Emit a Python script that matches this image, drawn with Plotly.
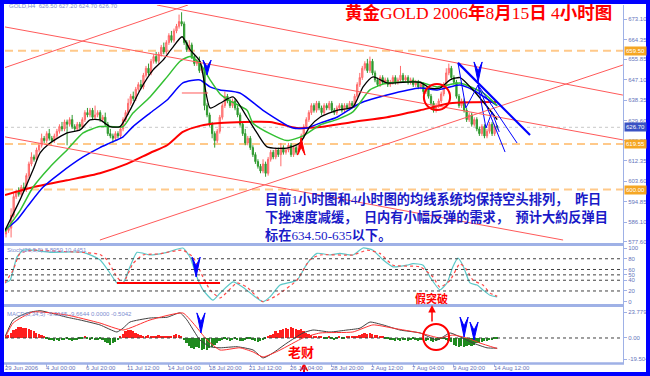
import plotly.graph_objects as go

# ---------------- data ----------------
first_open = 581.0
closes = [582.5, 583.5, 589, 597, 599, 598, 601, 600, 606, 611,
          614, 613, 617, 619, 622, 621, 624, 622, 621, 623,
          625, 627, 626, 629, 628, 630, 627, 626, 628, 627,
          630, 633, 632, 634, 631, 632, 633, 630, 631, 628,
          624, 623, 622, 624, 623, 626, 630, 633, 637, 640,
          639, 643, 645, 644, 649, 652, 650, 655, 657, 655,
          658, 661, 659, 663, 666, 664, 668, 670, 672, 671,
          663, 660, 662, 657, 654, 655, 651, 652, 636, 632,
          628, 624, 621, 625, 631, 636, 640, 638, 636, 638,
          635, 632, 628, 624, 620, 622, 618, 615, 612, 610,
          608, 611, 607, 613, 616, 614, 617, 615, 618, 616,
          617, 619, 615, 618, 616, 619, 623, 627, 630, 633,
          636, 634, 637, 635, 633, 636, 635, 637, 634, 633,
          635, 636, 634, 636, 635, 637, 636, 640, 645, 648,
          652, 654, 651, 655, 650, 647, 645, 648, 646, 647,
          645, 646, 648, 646, 647, 649, 647, 648, 646, 647,
          645, 646, 644, 645, 642, 643, 640, 637, 634, 636,
          638, 641, 645, 650, 652, 648, 646, 640, 636, 638,
          634, 630, 632, 628, 630, 626, 624, 627, 623, 625,
          628, 624, 627.2, 626.7]
upper_wick = [1, 1, 3, 2, 1, 2, 1, 2, 1, 1,
              2, 1, 1, 1, 2, 1, 1, 2, 1, 1,
              1, 1, 2, 1, 1, 1, 2, 1, 1, 1,
              1, 1, 2, 1, 1, 4, 1, 1, 1, 2,
              1, 2, 1, 1, 1, 1, 1, 1, 2, 1,
              2, 1, 1, 2, 1, 1, 2, 1, 1, 2,
              1, 1, 2, 1, 1, 2, 1, 1, 3, 4,
              1, 1, 2, 1, 1, 1, 2, 1, 2, 1,
              1, 1, 1, 1, 1, 1, 2, 1, 1, 1,
              1, 1, 1, 1, 2, 1, 1, 1, 1, 1,
              1, 2, 1, 1, 1, 1, 1, 1, 2, 1,
              1, 1, 1, 1, 1, 1, 1, 1, 1, 1,
              1, 1, 1, 1, 1, 1, 1, 1, 1, 1,
              1, 1, 1, 1, 1, 1, 1, 1, 1, 2,
              1, 1, 2, 2, 1, 1, 1, 1, 1, 1,
              1, 1, 1, 1, 1, 4, 1, 1, 1, 1,
              1, 1, 1, 1, 1, 1, 1, 1, 1, 1,
              1, 1, 1, 2, 2, 1, 1, 1, 1, 1,
              1, 1, 1, 1, 1, 1, 1, 1, 1, 1,
              1, 1, 1, 0.5]
lower_wick = [1.5, 1, 4, 1, 1, 1, 1, 1, 1, 1,
              1, 1, 1, 1, 1, 1, 1, 1, 1, 1,
              1, 1, 1, 1, 9, 1, 1, 1, 1, 1,
              1, 1, 1, 1, 1, 1, 1, 1, 1, 1,
              1, 1, 2, 1, 1, 1, 1, 1, 1, 1,
              1, 1, 1, 1, 1, 1, 1, 1, 1, 1,
              1, 1, 1, 1, 1, 1, 1, 1, 1, 1,
              1, 1, 1, 1, 1, 1, 1, 1, 2, 1,
              1, 2, 3, 1, 1, 1, 1, 1, 1, 1,
              1, 1, 1, 1, 1, 1, 1, 1, 1, 1,
              1, 1, 1.5, 1, 1, 1, 1, 1, 5, 1,
              1, 1, 1, 1, 1, 1, 1, 1, 1, 1,
              1, 1, 1, 1, 1, 1, 1, 1, 1, 1,
              1, 1, 1, 1, 1, 1, 1, 1, 1, 1,
              1, 1, 1, 1, 1, 1, 1, 1, 1, 1,
              1, 1, 1, 1, 1, 1, 1, 1, 1, 1,
              1, 1, 1, 1, 1, 1, 1, 1, 1, 1,
              1, 1, 1, 1, 1, 1, 1, 1, 1, 1,
              1, 1, 1, 1, 1, 1, 1, 1, 1, 1,
              1, 1, 1, 1]

date_tick_bars = [0, 16, 32, 48, 64, 80, 96, 112, 128, 144, 160, 176, 192]
date_tick_labels = ["29 Jun 2006", "4 Jul 00:00", "6 Jul 20:00", "11 Jul 12:00",
                    "14 Jul 04:00", "18 Jul 20:00", "21 Jul 12:00", "26 Jul 04:00",
                    "28 Jul 20:00", "2 Aug 12:00", "7 Aug 04:00", "9 Aug 20:00",
                    "14 Aug 12:00"]

price_ticks = [673.10, 664.35, 655.85, 647.10, 638.35, 629.60, 620.85, 612.35,
               603.60, 594.85, 586.10, 577.60]
stoch_ticks = [100, 80, 60, 50, 40, 20, 0]
stoch_levels = [80, 60, 50, 40, 20]
macd_ticks = [23.7794, 0.0, -19.5044]
macd_tick_text = ["23.7794", "0.00", "-19.5044"]

# moving averages (bar index, price)
ma_red_bar = [-0.4, 10.6, 24.0, 36.9, 47.5, 56.6, 63.3, 69.5, 76.2, 84.1, 103.7, 114.3,
              123.4, 136.3, 149.7, 162.7, 174.5, 193]
ma_red_val = [597.7, 601.0, 604.0, 607.0, 611.0, 615.7, 619.0, 624.7, 627.3, 628.5, 629.0,
              626.4, 626.8, 629.0, 631.0, 634.0, 637.0, 637.5]
ma_blue_bar = [-0.4, 4.3, 8.3, 14.5, 21.2, 30.3, 36.9, 40.9, 46.0, 49.9, 56.6, 63.3, 69.5,
               76.2, 80.2, 84.1, 91.9, 101.0, 112.8, 118.3, 123.4, 130.0, 139.1, 149.7,
               162.7, 169.4, 174.5, 178.4, 183.5, 193]
ma_blue_val = [582.7, 587.0, 592.6, 601.0, 607.0, 614.0, 618.0, 620.0, 622.6, 627.0, 632.8,
               638.4, 645.7, 647.0, 644.0, 642.7, 641.4, 634.0, 626.4, 626.4, 628.5, 631.0,
               637.0, 640.5, 643.5, 642.7, 644.0, 644.8, 642.7, 636.0]
ma_green_bar = [-0.4, 5.5, 10.6, 17.3, 24.0, 30.3, 36.9, 40.9, 46.0, 49.9, 56.6, 63.3, 68.4,
                72.3, 76.2, 80.2, 84.1, 88.0, 94.7, 97.0, 103.7, 110.4, 116.7, 123.4, 130.0,
                136.3, 143.0, 149.7, 162.7, 169.4, 174.5, 178.4, 187.4, 193]
ma_green_val = [582.0, 591.0, 601.0, 609.7, 617.0, 624.3, 627.0, 627.0, 627.0, 632.8, 639.7,
                648.3, 655.0, 657.0, 654.0, 647.0, 641.0, 638.0, 634.0, 628.5, 624.0, 621.0,
                623.0, 627.7, 630.0, 633.3, 642.7, 645.7, 646.0, 644.0, 645.0, 645.7, 641.4,
                636.0]
ma_black_bar = [-0.4, 5.5, 10.6, 13.4, 17.3, 24.0, 29.1, 33.0, 36.9, 40.9, 44.8, 48.7, 52.7,
                57.8, 61.7, 65.2, 69.2, 72.3, 76.2, 80.2, 84.1, 89.2, 94.7, 98.6, 102.6,
                110.4, 115.5, 119.4, 123.4, 130.0, 136.3, 140.3, 144.2, 149.7, 156.0, 162.7,
                166.6, 170.5, 174.5, 178.4, 183.5, 190.2, 193]
ma_black_val = [582.5, 595.6, 608.4, 615.7, 620.0, 624.3, 625.6, 629.9, 629.9, 627.0, 627.0,
                634.0, 642.7, 651.3, 655.5, 660.5, 665.5, 660.0, 655.0, 635.0, 637.0, 639.7,
                631.0, 624.3, 618.3, 617.8, 620.0, 627.0, 631.0, 634.0, 635.4, 644.0, 648.3,
                645.7, 646.0, 646.0, 643.5, 643.5, 647.0, 648.0, 642.7, 634.0, 630.0]

# stochastic
stoch_k_bar = [-0.4, 1.6, 4.3, 6.7, 10.6, 17.3, 30.3, 36.9, 40.9, 43.6, 46.0, 48.7, 51.5,
               56.6, 63.3, 69.5, 72.3, 75.0, 77.4, 81.3, 84.1, 89.2, 93.1, 97.1, 101.0,
               103.7, 107.7, 114.3, 118.3, 122.2, 127.3, 131.2, 136.3, 140.3, 144.2, 148.1,
               152.1, 157.6, 159.9, 163.9, 166.6, 170.5, 173.3, 175.6, 177.6, 179.6, 182.3,
               185.1, 187.4, 190.2, 193]
stoch_k_val = [35, 40, 83, 96, 96, 92, 92, 78, 53, 35, 35, 65, 92, 87, 92, 100, 83, 46, 22,
               3, 16, 37, 27, 12, 0, 9, 31, 40, 71, 90, 87, 90, 87, 100, 96, 78, 65, 68, 71,
               68, 46, 22, 35, 65, 81, 67, 35, 31, 22, 12, 8.9]
stoch_d_bar = [-0.4, 2.8, 5.5, 10.6, 20.0, 30.0, 36.9, 39.7, 43.6, 46.0, 49.9, 53.8, 60.0,
               69.5, 73.5, 77.4, 80.2, 84.1, 90.8, 94.7, 101.0, 106.5, 114.3, 119.4, 123.4,
               136.3, 141.9, 146.9, 152.1, 162.7, 167.8, 170.5, 174.5, 178.4, 181.1, 183.5,
               187.4, 190.2, 193]
stoch_d_val = [35, 59, 90, 96, 94, 92, 88, 78, 46, 35, 71, 87, 89, 96, 83, 46, 22, 7, 35, 27,
               0, 12, 40, 78, 87, 87, 96, 90, 68, 65, 46, 27, 40, 71, 59, 40, 31, 16, 10.4]

# MACD
macd_bar = [-0.4, 2.8, 8.3, 13.4, 17.3, 24.0, 29.1, 36.9, 43.6, 46.0, 48.7, 56.6, 63.3, 68.4,
            71.1, 76.2, 80.2, 84.1, 90.8, 97.1, 101.0, 104.9, 110.4, 116.7, 120.6, 127.3,
            134.0, 139.1, 143.0, 148.1, 154.8, 162.7, 169.4, 174.5, 178.4, 183.5, 189.0, 193]
macd_val = [1, 16.5, 23, 25, 23, 19, 16.5, 12, 5.5, 9, 14.6, 18.3, 19, 23, 16.5, -1.8, -8, -9,
            -8, -11, -18.3, -13.7, -4.6, 4.6, 7.3, 5.5, 7.3, 9, 14.6, 12, 7.3, 4.6, -1.8, 4.6,
            1, -4.6, -9, -9.3]
signal_bar = [-0.4, 2.8, 10.6, 24.0, 36.9, 46.0, 56.6, 69.5, 73.5, 79.0, 84.1, 91.9, 97.1,
              101.0, 107.7, 116.7, 123.4, 136.3, 144.2, 152.1, 162.7, 170.5, 175.6, 181.1,
              186.2, 193]
signal_val = [0, 13.7, 23.8, 21, 13.7, 7.3, 16.5, 22.9, 13.7, -1.8, -11, -9, -12.8, -17.4,
              -11, 0, 4.6, 5.5, 12, 9, 4.6, 0, 2.7, 0, -4.6, -9.66]
histogram = [1, 3,
             5, 7, 8, 10, 10, 9, 9, 8, 7, 6, 5, 4, 3, 2,
             -1, -2, -2, -3, -2, -3, -2, -2, -1, -2, -3, -2, -2, -1, -1,
             1, -1, -2, -1, -2, -2, -1,
             -2, -4, -5, -6, -5, -4,
             -2,
             2, 4, 6, 7, 7, 6, 5, 4, 3, 2,
             2, 3, 2, 1, 2, 3, 2, 1, 2, 1, 2, 3, 4, 3, 2,
             -2, -5, -7, -9, -10, -8, -9, -11, -10, -11, -9, -8, -6,
             -5, -3, -2, -1, -2, -3, -2, -1, -2, -3, -3, -2, -1, -1, -2, -3, -4, -3, -2,
             -1, 1, 3, 4, 6, 5, 7, 8, 9, 8, 10, 9, 8, 7, 8, 6, 5, 4, 3, 2, 2, 1,
             1, -1, -1, 1, -1, -2, -1, 1, -1, -1, 1, 1, 2, 1, 2,
             3, 4, 5, 4, 5, 4, 3, 3, 2, 1,
             -1, -1, -2, -2, -3, -2, -3, -2, -2, -3, -2, -1, -2, -3, -2, -2, -3, -2,
             -3, -4, -3, -2, -1, -1,
             -2, -3, -4, -6, -7, -8, -7, -8, -7, -6, -7, -6, -5, -5, -4, -3, -3, -2, -2, -1,
             -0.5]

# hand-drawn objects (bar index, value)
red_trendlines = [((59.3, 679.1), (242.4, 640.5)),
                  ((-0.4, 652.3), (71.5, 679.1)),
                  ((-0.4, 669.7), (242.4, 621.3)),
                  ((-0.4, 622.6), (218.9, 578.4)),
                  ((36.9, 578.4), (242.4, 653.4)),
                  ((69.1, 641.4), (79.4, 641.4))]
blue_thick_lines = [((177.6, 654.3), (205.9, 623.4))]
blue_thin_lines = [((185.5, 644.8), (200.8, 620.0)),
                   ((185.5, 644.8), (196.1, 616.1))]
blue_zigzag_bar = [177.6, 180.7, 185.5, 188.6, 191.0, 193.8]
blue_zigzag_val = [654.3, 635.0, 644.8, 626.4, 633.3, 624.7]
stoch_red_line = ((43.6, 34.8), (84.1, 34.8))
price_circle = (164.2, 634.1, 174.5, 645.3)
macd_circle = (163.9, -11.0, 174.1, 12.8)
blue_arrows_price = [(79.0, 649.1, 655.5), (185.5, 646.1, 654.7)]
blue_arrows_stoch = [(74.7, 46, 83)]
blue_arrows_macd = [(76.6, 4.6, 23), (180.0, 0.9, 19.2), (183.9, -1.8, 14.6)]
red_arrows_price = [(116.0, 622.1, 614.8)]
red_arrow_bottom_bar = 117.1

hline_levels = [659.50, 619.55, 600.00]
hline_labels = ["659.50", "619.55", "600.00"]
last_price = 626.70

# ---------------- figure ----------------
W, H = 650, 376
ML, MR, MT, MB = 5, 27, 5, 13
PW, PH = W - ML - MR, H - MT - MB


def px(xp):
    return (xp - ML) / PW


def py(yp):
    return (H - MB - yp) / PH


N = len(closes)
opens = [first_open] + closes[:-1]
highs = [max(o, c) + u for o, c, u in zip(opens, closes, upper_wick)]
lows = [min(o, c) - l for o, c, l in zip(opens, closes, lower_wick)]
bars = list(range(N))

XR = [-0.393, 242.44]
AXC = "#6674bb"
SEP = "#9fb1e6"
small = dict(family="Liberation Sans, Arial", size=6, color=AXC)

fig = go.Figure()

fig.add_trace(go.Candlestick(
    x=bars, open=opens, high=highs, low=lows, close=closes,
    increasing=dict(line=dict(color="#ff6a6a", width=1), fillcolor="#ff9c9c"),
    decreasing=dict(line=dict(color="#2f9a2f", width=1), fillcolor="#2f9a2f"),
    whiskerwidth=0, xaxis="x", yaxis="y", showlegend=False, hoverinfo="skip"))

for bx, vy, col, wd in [(ma_red_bar, ma_red_val, "#ff0000", 2),
                        (ma_blue_bar, ma_blue_val, "#0000ff", 1.5),
                        (ma_green_bar, ma_green_val, "#33c033", 1.5),
                        (ma_black_bar, ma_black_val, "#000000", 1.3)]:
    fig.add_trace(go.Scatter(x=bx, y=vy, mode="lines", xaxis="x", yaxis="y",
                             line=dict(color=col, width=wd, shape="spline", smoothing=0.6),
                             showlegend=False, hoverinfo="skip"))

fig.add_trace(go.Scatter(x=blue_zigzag_bar, y=blue_zigzag_val, mode="lines",
                         xaxis="x", yaxis="y", line=dict(color="#0000ff", width=1),
                         showlegend=False, hoverinfo="skip"))

# stochastic
fig.add_trace(go.Scatter(x=stoch_k_bar, y=stoch_k_val, mode="lines", xaxis="x2", yaxis="y2",
                         line=dict(color="#5cc8c8", width=1.2, shape="spline", smoothing=0.5),
                         showlegend=False, hoverinfo="skip"))
fig.add_trace(go.Scatter(x=stoch_d_bar, y=stoch_d_val, mode="lines", xaxis="x2", yaxis="y2",
                         line=dict(color="#ff4a4a", width=1.2, dash="dot", shape="spline",
                                   smoothing=0.5),
                         showlegend=False, hoverinfo="skip"))

# MACD
fig.add_trace(go.Bar(x=bars, y=histogram, xaxis="x3", yaxis="y3", width=0.7,
                     marker=dict(color=["#ff1e1e" if v > 0 else "#1f8a1f" for v in histogram],
                                 line=dict(width=0)),
                     showlegend=False, hoverinfo="skip"))
fig.add_trace(go.Scatter(x=macd_bar, y=macd_val, mode="lines", xaxis="x3", yaxis="y3",
                         line=dict(color="#404040", width=1, shape="spline", smoothing=0.5),
                         showlegend=False, hoverinfo="skip"))
fig.add_trace(go.Scatter(x=signal_bar, y=signal_val, mode="lines", xaxis="x3", yaxis="y3",
                         line=dict(color="#ff3030", width=1, shape="spline", smoothing=0.5),
                         showlegend=False, hoverinfo="skip"))

shapes = []
for lv in hline_levels:
    shapes.append(dict(type="line", xref="x domain", yref="y", x0=0, x1=1, y0=lv, y1=lv,
                       line=dict(color="#ffc98a", width=2, dash="8px,5px"), layer="below"))
shapes.append(dict(type="line", xref="x domain", yref="y", x0=0, x1=1, y0=last_price,
                   y1=last_price, line=dict(color="#c8c8c8", width=1, dash="dot"),
                   layer="below"))
for lv in stoch_levels:
    shapes.append(dict(type="line", xref="x2 domain", yref="y2", x0=0, x1=1, y0=lv, y1=lv,
                       line=dict(color="#404040", width=1, dash="dot")))
shapes.append(dict(type="line", xref="x3 domain", yref="y3", x0=0, x1=1, y0=0, y1=0,
                   line=dict(color="#404040", width=1, dash="dot")))

for (a, b) in red_trendlines:
    shapes.append(dict(type="line", xref="x", yref="y", x0=a[0], y0=a[1], x1=b[0], y1=b[1],
                       line=dict(color="#ff5a5a", width=1)))
for (a, b) in blue_thick_lines:
    shapes.append(dict(type="line", xref="x", yref="y", x0=a[0], y0=a[1], x1=b[0], y1=b[1],
                       line=dict(color="#0000ff", width=2.2)))
for (a, b) in blue_thin_lines:
    shapes.append(dict(type="line", xref="x", yref="y", x0=a[0], y0=a[1], x1=b[0], y1=b[1],
                       line=dict(color="#0000ff", width=1)))
shapes.append(dict(type="line", xref="x2", yref="y2", x0=stoch_red_line[0][0],
                   y0=stoch_red_line[0][1], x1=stoch_red_line[1][0], y1=stoch_red_line[1][1],
                   line=dict(color="#ff0000", width=2)))
shapes.append(dict(type="circle", xref="x", yref="y", x0=price_circle[0], y0=price_circle[1],
                   x1=price_circle[2], y1=price_circle[3], line=dict(color="#ff0000", width=2)))
shapes.append(dict(type="circle", xref="x3", yref="y3", x0=macd_circle[0], y0=macd_circle[1],
                   x1=macd_circle[2], y1=macd_circle[3], line=dict(color="#ff0000", width=2)))


def chevron(xc, tip, base, hw, xr, yr, color):
    notch = base + (tip - base) * 0.45
    path = (f"M {xc - hw},{base} L {xc},{tip} L {xc + hw},{base} "
            f"L {xc},{notch} Z")
    return dict(type="path", xref=xr, yref=yr, path=path, fillcolor=color,
                line=dict(color=color, width=1))


for (b, t, s) in blue_arrows_price:
    shapes.append(chevron(b, t, s, 1.6, "x", "y", "#0000ff"))
for (b, t, s) in blue_arrows_stoch:
    shapes.append(chevron(b, t, s, 1.6, "x2", "y2", "#0000ff"))
for (b, t, s) in blue_arrows_macd:
    shapes.append(chevron(b, t, s, 1.6, "x3", "y3", "#0000ff"))
for (b, t, s) in red_arrows_price:
    shapes.append(chevron(b, t, s, 1.5, "x", "y", "#ff0000"))
shapes.append(chevron(red_arrow_bottom_bar, py(363.5), py(371), 1.5, "x3", "paper", "#ff0000"))
shapes.append(dict(type="line", xref="x3", yref="paper", x0=red_arrow_bottom_bar,
                   x1=red_arrow_bottom_bar, y0=py(368), y1=py(377),
                   line=dict(color="#ff0000", width=2)))

for yy, wd in [(244.5, 3), (305.5, 3), (363.5, 2.5)]:
    shapes.append(dict(type="line", xref="paper", yref="paper", x0=px(0), x1=px(624),
                       y0=py(yy), y1=py(yy), line=dict(color=SEP, width=wd)))
shapes.append(dict(type="rect", xref="paper", yref="paper", x0=px(2), x1=px(648),
                   y0=py(374), y1=py(2), line=dict(color="#0000ff", width=4)))

annotations = []
for b, t in zip(date_tick_bars, date_tick_labels):
    annotations.append(dict(x=b, xref="x3", y=py(368.5), yref="paper", text=t,
                            showarrow=False, xanchor="left", yanchor="middle", xshift=-3,
                            font=small))
for lv, t in zip(hline_levels, hline_labels):
    annotations.append(dict(x=px(624), xref="paper", y=lv, yref="y", text=t, showarrow=False,
                            xanchor="left", yanchor="middle", bgcolor="#f5a623",
                            font=dict(family="Liberation Sans, Arial", size=6, color="white"),
                            borderpad=1))
annotations.append(dict(x=px(624), xref="paper", y=last_price, yref="y", text="626.70",
                        showarrow=False, xanchor="left", yanchor="middle", bgcolor="#3a52c4",
                        font=dict(family="Liberation Sans, Arial", size=6, color="white"),
                        borderpad=1))
lab = dict(family="Liberation Sans, Arial", size=6, color="#7d8dd0")
annotations.append(dict(x=px(7), xref="paper", y=py(6), yref="paper",
                        text="GOLD,H4  626.50 627.20 624.70 626.70", showarrow=False,
                        xanchor="left", yanchor="middle", font=lab))
annotations.append(dict(x=px(5), xref="paper", y=py(250), yref="paper",
                        text="Stoch(26,5,5) 8.8959 10.4451", showarrow=False,
                        xanchor="left", yanchor="middle", font=lab))
annotations.append(dict(x=px(5), xref="paper", y=py(314), yref="paper",
                        text="MACD(5,34,5) -9.3165 -9.6644 0.0000 -0.5042", showarrow=False,
                        xanchor="left", yanchor="middle", font=lab))

cjk = "Liberation Serif, Noto Sans CJK SC"
annotations.append(dict(x=px(343), xref="paper", y=py(13), yref="paper",
                        text="<b>黄金</b>GOLD 2006<b>年</b>8<b>月</b>15<b>日</b> 4<b>小时图</b>",
                        showarrow=False, xanchor="left", yanchor="middle",
                        font=dict(family=cjk, size=17.5, color="#ff0000")))
text_lines = ["<b>目前</b>1<b>小时图和</b>4<b>小时图的均线系统均保持空头排列，\u3000昨日</b>",
              "<b>下挫速度减缓，\u3000日内有小幅反弹的需求，\u3000预计大約反弹目</b>",
              "<b>标在</b>634.50-635<b>以下。</b>"]
for t, yy in zip(text_lines, [199, 217, 235]):
    annotations.append(dict(x=px(263), xref="paper", y=py(yy), yref="paper", text=t,
                            showarrow=False, xanchor="left", yanchor="middle",
                            font=dict(family=cjk, size=13.2, color="#1a1ac8")))
annotations.append(dict(x=px(432), xref="paper", y=py(298), yref="paper", text="<b>假突破</b>",
                        showarrow=False, xanchor="center", yanchor="middle",
                        font=dict(family=cjk, size=11, color="#ff0000")))
annotations.append(dict(x=px(301), xref="paper", y=py(352), yref="paper", text="<b>老财</b>",
                        showarrow=False, xanchor="center", yanchor="middle",
                        font=dict(family=cjk, size=13, color="#ff0000")))
annotations.append(dict(x=px(432), xref="paper", y=py(305), yref="paper", text="",
                        showarrow=True, ax=0, ay=18, arrowhead=2, arrowsize=1, arrowwidth=1.5,
                        arrowcolor="#ff0000"))

axis_common = dict(showgrid=False, zeroline=False, range=XR, showline=False,
                   automargin=False, fixedrange=True)
yaxis_common = dict(showgrid=False, zeroline=False, side="right", showline=True,
                    linecolor=SEP, linewidth=1, ticks="outside", ticklen=3, tickcolor=SEP,
                    tickfont=small, fixedrange=True, automargin=False)

fig.update_layout(
    template="none",
    width=W, height=H, margin=dict(l=ML, r=MR, t=MT, b=MB, pad=0, autoexpand=False),
    paper_bgcolor="white", plot_bgcolor="white", showlegend=False,
    bargap=0,
    xaxis=dict(axis_common, anchor="y", showticklabels=False, rangeslider=dict(visible=False)),
    xaxis2=dict(axis_common, anchor="y2", showticklabels=False),
    xaxis3=dict(axis_common, anchor="y3", showticklabels=False, tickmode="array",
                tickvals=date_tick_bars, ticks="outside", ticklen=3, tickcolor=SEP),
    yaxis=dict(yaxis_common, anchor="x", domain=[py(244), 1.0], range=[576.7, 679.1],
               tickmode="array", tickvals=price_ticks,
               ticktext=[f"{v:.2f}" for v in price_ticks]),
    yaxis2=dict(yaxis_common, anchor="x2", domain=[py(305), py(245)], range=[-6.1, 105.6],
                tickmode="array", tickvals=stoch_ticks, ticktext=[str(v) for v in stoch_ticks]),
    yaxis3=dict(yaxis_common, anchor="x3", domain=[0.0, py(306)], range=[-22.9, 29.3],
                tickmode="array", tickvals=macd_ticks, ticktext=macd_tick_text),
    shapes=shapes, annotations=annotations,
)

fig.write_html("out.html", config={"displayModeBar": False},
               post_script="document.body.style.margin='0px';"
                           "document.body.style.overflow='hidden';")
